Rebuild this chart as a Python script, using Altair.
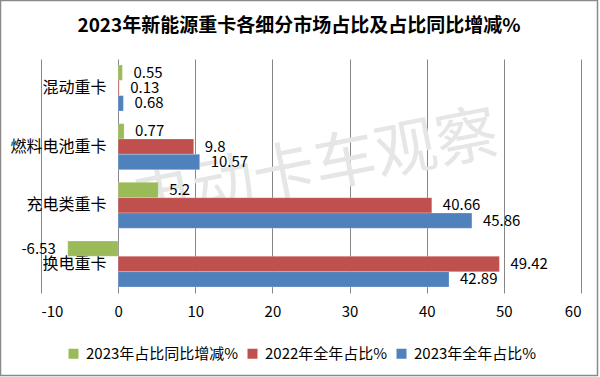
import altair as alt
import pandas as pd

categories = ["混动重卡", "燃料电池重卡", "充电类重卡", "换电重卡"]
series = ["2023年占比同比增减%", "2022年全年占比%", "2023年全年占比%"]
change_2023 = [0.55, 0.77, 5.2, -6.53]
share_2022 = [0.13, 9.8, 40.66, 49.42]
share_2023 = [0.68, 10.57, 45.86, 42.89]
colors = ["#9BBB59", "#C0504D", "#4F81BD"]
x_ticks = [-10, 0, 10, 20, 30, 40, 50, 60]
title_text = "2023年新能源重卡各细分市场占比及占比同比增减%"
watermark = "电动卡车观察"

FONT = "Noto Sans CJK SC"

rows = []
for i, c in enumerate(categories):
    for s, vals in zip(series, [change_2023, share_2022, share_2023]):
        rows.append({"category": c, "series": s, "value": vals[i], "label": f"{vals[i]:g}"})
df = pd.DataFrame(rows)

base = alt.Chart(df).encode(
    y=alt.Y(
        "category:N",
        sort=categories,
        scale=alt.Scale(paddingInner=0.216, paddingOuter=0.102),
        axis=alt.Axis(
            title=None, domain=False, ticks=False, grid=False,
            labelPadding=0, offset=-65, labelFontSize=16,
            labelColor="black", labelFont=FONT,
        ),
    ),
    yOffset=alt.YOffset("series:N", sort=series, scale=alt.Scale(paddingInner=0, paddingOuter=0)),
    x=alt.X(
        "value:Q",
        scale=alt.Scale(domain=[-10, 60], nice=False, zero=False),
        axis=alt.Axis(
            values=x_ticks, title=None, grid=True, gridColor="#868686",
            gridWidth=1, domain=False, ticks=False, labelPadding=11,
            labelFontSize=15, labelColor="black", labelFont=FONT,
            labelExpr="datum.value + ''",
        ),
    ),
)

bars = base.mark_bar(stroke="white", strokeWidth=0.4, strokeOpacity=0.6).encode(
    color=alt.Color(
        "series:N",
        sort=series,
        scale=alt.Scale(domain=series, range=colors),
        legend=alt.Legend(
            title=None, orient="none", direction="horizontal",
            legendX=25, legendY=287, symbolType="square", symbolSize=100,
            symbolStrokeWidth=0, labelFontSize=15, labelFont=FONT,
            labelColor="black", labelOffset=5, columnPadding=6,
        ),
    )
)

pos_labels = base.transform_filter("datum.value >= 0").mark_text(
    align="left", baseline="middle", dx=11, fontSize=15, font=FONT, color="black"
).encode(text="label:N")

neg_labels = base.transform_filter("datum.value < 0").mark_text(
    align="right", baseline="middle", dx=-12, fontSize=15, font=FONT, color="black"
).encode(text="label:N")

wm = alt.Chart(pd.DataFrame({"t": [watermark]})).mark_text(
    fontSize=62, font=FONT, color="#e6e6e6", angle=349, align="center", baseline="middle"
).encode(text="t:N", x=alt.value(274), y=alt.value(110))

title = alt.Chart(pd.DataFrame({"t": [title_text]})).mark_text(
    fontSize=19, fontWeight="bold", font=FONT, color="black",
    align="center", baseline="middle"
).encode(text="t:N", x=alt.value(258), y=alt.value(-33))

frame = alt.Chart(pd.DataFrame({"a": [1]})).mark_rect(
    fill=None, fillOpacity=0, stroke="#8a8a8a", strokeWidth=1.5
).encode(x=alt.value(-40.5), x2=alt.value(556.5), y=alt.value(-58.5), y2=alt.value(316.5))

chart = alt.layer(wm, bars, pos_labels, neg_labels, title, frame).properties(
    width=540,
    height=234,
    autosize=alt.AutoSizeParams(type="none"),
    padding={"left": 41, "top": 59, "right": 19, "bottom": 84},
    background="white",
).configure_view(stroke=None)

chart.save("out.html", embed_options={"renderer": "svg", "actions": False})
